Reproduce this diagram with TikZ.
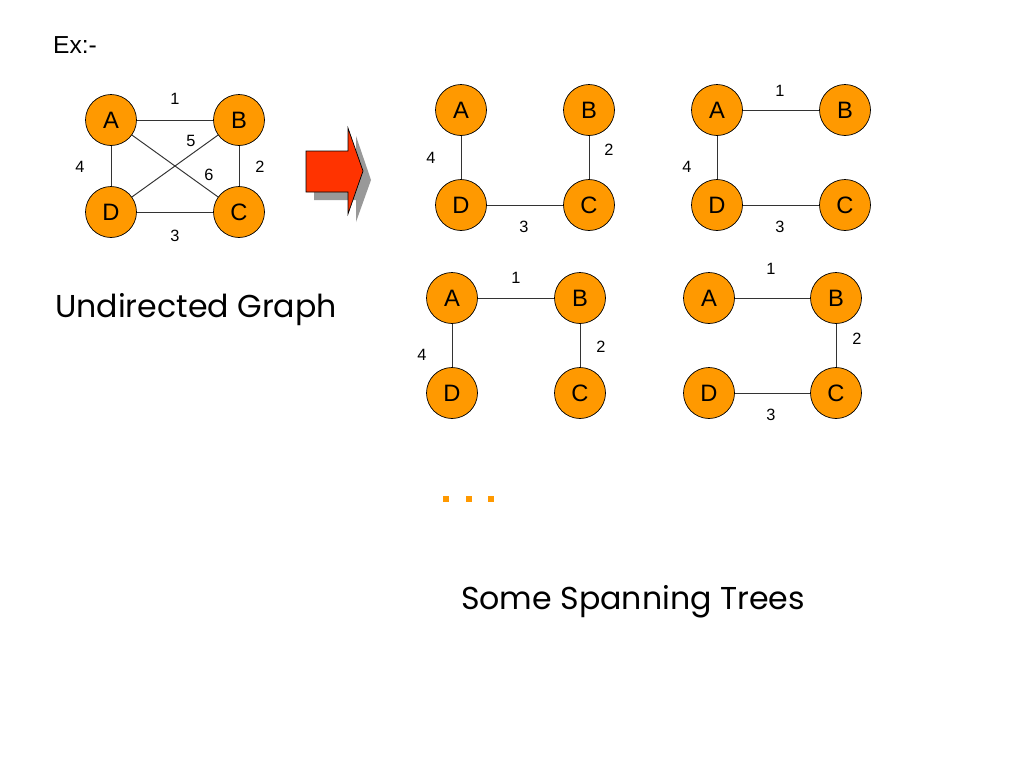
\documentclass[tikz,border=0pt]{standalone}
\usepackage{fontspec}
\setmainfont{Liberation Sans}
\newfontfamily\handfont{Poppins}
\definecolor{vorange}{RGB}{255,153,0}
\definecolor{arrowred}{RGB}{255,51,0}

\begin{document}
\begin{tikzpicture}[
  x=0.02cm, y=-0.02cm,
  vertex/.style={draw, circle, fill=vorange, minimum size=1.02cm, inner sep=0pt,
    font=\fontsize{13.5}{14}\selectfont},
  wt/.style={inner sep=0pt, font=\fontsize{9.3}{10}\selectfont},
  link/.style={draw=black!80, line width=0.55pt},
  title/.style={inner sep=0pt, font=\handfont\fontsize{18}{20}\selectfont}
]
\useasboundingbox (0,0) rectangle (1024,768);

\node[inner sep=0pt, font=\fontsize{14}{16}\selectfont] (ex) at (75,45) {Ex:-};

% Undirected graph
\node[vertex] (gA) at (111,120) {A};
\node[vertex] (gB) at (239,120) {B};
\node[vertex] (gD) at (111,212) {D};
\node[vertex] (gC) at (239,212) {C};
\draw[link] (gA) -- (gB);
\draw[link] (gB) -- (gC);
\draw[link] (gD) -- (gC);
\draw[link] (gA) -- (gD);
\draw[link] (gD) -- (gB);
\draw[link] (gA) -- (gC);
\node[wt] (g1) at (175,99) {1};
\node[wt] (g5) at (191,141) {5};
\node[wt] (g6) at (209,175) {6};
\node[wt] (g4) at (80,167) {4};
\node[wt] (g2) at (260,167) {2};
\node[wt] (g3) at (175,236) {3};
\node[title] (undir) at (196,310) {Undirected Graph};

% Block arrow with shadow
\fill[gray!80] (314,159) -- (356,159) -- (356,136) -- (371,180) -- (356,222)
  -- (356,200) -- (314,200) -- cycle;
\filldraw[fill=arrowred, draw=black, line width=0.4pt] (306,151) -- (348,151)
  -- (348,128) -- (363,171) -- (348,214) -- (348,192) -- (306,192) -- cycle;

% Tree 1
\node[vertex] (pA) at (461,110) {A};
\node[vertex] (pB) at (589,110) {B};
\node[vertex] (pD) at (461,205) {D};
\node[vertex] (pC) at (589,205) {C};
\draw[link] (pA) -- (pD);
\draw[link] (pD) -- (pC);
\draw[link] (pB) -- (pC);
\node[wt] (p4) at (431,158) {4};
\node[wt] (p2) at (609,150) {2};
\node[wt] (p3) at (524,227) {3};

% Tree 2
\node[vertex] (qA) at (717,110) {A};
\node[vertex] (qB) at (845,110) {B};
\node[vertex] (qD) at (717,205) {D};
\node[vertex] (qC) at (845,205) {C};
\draw[link] (qA) -- (qB);
\draw[link] (qA) -- (qD);
\draw[link] (qD) -- (qC);
\node[wt] (q1) at (780,91) {1};
\node[wt] (q4) at (687,167) {4};
\node[wt] (q3) at (780,227) {3};

% Tree 3
\node[vertex] (rA) at (452,298) {A};
\node[vertex] (rB) at (580,298) {B};
\node[vertex] (rD) at (452,393) {D};
\node[vertex] (rC) at (580,393) {C};
\draw[link] (rA) -- (rB);
\draw[link] (rA) -- (rD);
\draw[link] (rB) -- (rC);
\node[wt] (r1) at (516,278) {1};
\node[wt] (r4) at (422,355) {4};
\node[wt] (r2) at (601,347) {2};

% Tree 4
\node[vertex] (sA) at (709,298) {A};
\node[vertex] (sB) at (836,298) {B};
\node[vertex] (sD) at (709,393) {D};
\node[vertex] (sC) at (836,393) {C};
\draw[link] (sA) -- (sB);
\draw[link] (sB) -- (sC);
\draw[link] (sD) -- (sC);
\node[wt] (s1) at (771,269) {1};
\node[wt] (s2) at (857,339) {2};
\node[wt] (s3) at (771,415) {3};

% dots
\fill[vorange] (443,496) rectangle (449,502);
\fill[vorange] (466,496) rectangle (472,502);
\fill[vorange] (488,496) rectangle (494,502);

\node[title] (trees) at (633,602) {Some Spanning Trees};
\end{tikzpicture}
\end{document}
